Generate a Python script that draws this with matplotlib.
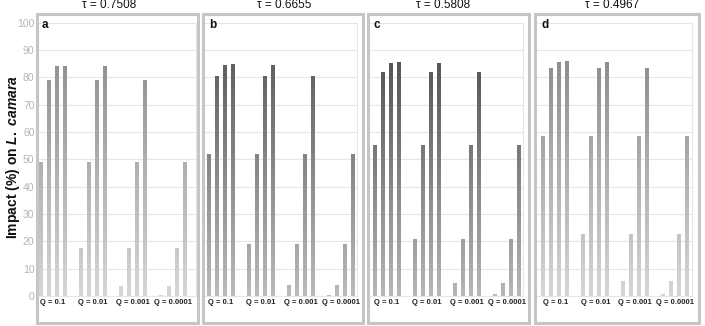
import numpy as np
import matplotlib
matplotlib.use("Agg")
import matplotlib.pyplot as plt
from matplotlib.patches import Rectangle
from matplotlib.colors import LinearSegmentedColormap

plt.rcParams['font.family'] = ['Liberation Sans', 'DejaVu Sans']
plt.rcParams['mathtext.fontset'] = 'custom'
plt.rcParams['mathtext.it'] = 'Liberation Sans:italic:bold'
plt.rcParams['mathtext.rm'] = 'Liberation Sans:bold'

# data
q_labels = ["Q = 0.1", "Q = 0.01", "Q = 0.001", "Q = 0.0001"]
panel_letters = ["a", "b", "c", "d"]
taus = ["0.7508", "0.6655", "0.5808", "0.4967"]

impact_a = [[49.0, 79.0, 84.0, 84.3],
            [17.5, 49.0, 79.0, 84.0],
            [3.5, 17.5, 49.0, 79.0],
            [0.4, 3.5, 17.5, 49.0]]
impact_b = [[52.0, 80.6, 84.5, 84.9],
            [19.2, 52.0, 80.6, 84.5],
            [4.0, 19.2, 52.0, 80.6],
            [0.5, 4.0, 19.2, 52.0]]
impact_c = [[55.3, 82.0, 85.3, 85.5],
            [21.0, 55.3, 82.0, 85.3],
            [4.6, 21.0, 55.3, 82.0],
            [0.6, 4.6, 21.0, 55.3]]
impact_d = [[58.5, 83.3, 85.8, 86.0],
            [22.7, 58.5, 83.3, 85.8],
            [5.5, 22.7, 58.5, 83.3],
            [0.7, 5.5, 22.7, 58.5]]
impacts = [impact_a, impact_b, impact_c, impact_d]

# gradient colours (top, bottom) per panel
grad_cols = [("#868686", "#d6d6d6"), ("#505050", "#bababa"),
             ("#444444", "#b6b6b6"), ("#828282", "#d6d6d6")]

W, H = 705, 326
fig = plt.figure(figsize=(W / 100, H / 100), dpi=100)

def fx(px):
    return px / W

def fy(py):
    return 1 - py / H

# layout in pixels
box_l = [37, 203, 368, 535]
box_r = [198, 363, 529, 699]
box_t, box_b = 14, 323
ax_l = [38, 204, 369, 536]
ax_r = [196, 357, 523, 692]
first_bar = [40.8, 208.7, 374.5, 543.3]
title_x = [109, 284, 443, 612]
ax_top, ax_bot = 22.7, 296
slot = 8.0  # px per bar slot

grad = np.linspace(0, 1, 256).reshape(-1, 1)

for p in range(4):
    ax = fig.add_axes([fx(ax_l[p]), fy(ax_bot), fx(ax_r[p] - ax_l[p]),
                       (ax_bot - ax_top) / H])
    cmap = LinearSegmentedColormap.from_list("g", [grad_cols[p][1], grad_cols[p][0]])
    xs, vals = [], []
    for g in range(4):
        for k in range(4):
            xs.append(g * 5 + k)
            vals.append(impacts[p][g][k])
    bars = ax.bar(xs, vals, width=0.48, color="none", edgecolor="none", zorder=2)
    # vertical grey gradient inside each bar
    for b in bars:
        im = ax.imshow(grad, extent=(b.get_x(), b.get_x() + b.get_width(), 0, 100),
                       cmap=cmap, origin="lower", aspect="auto", zorder=2)
        im.set_clip_path(b)
    ax.set_xlim((ax_l[p] - first_bar[p]) / slot, (ax_r[p] - first_bar[p]) / slot)
    ax.set_ylim(0, 100)
    ax.set_axisbelow(True)
    ax.set_yticks(range(0, 101, 10))
    ax.yaxis.grid(True, color="#e6e6e6", lw=0.8)
    centers = [g * 5 + 1.5 for g in range(4)]
    ax.set_xticks(centers, q_labels, fontsize=5.5, fontweight="bold", color="#222222")
    ax.tick_params(axis="x", length=0, pad=2.2)
    if p == 0:
        ax.tick_params(axis="y", length=0, pad=2.5, labelsize=7.5, labelcolor="#b4b4b4")
    else:
        ax.tick_params(axis="y", length=0, labelleft=False)
    for s in ["top", "left"]:
        ax.spines[s].set_visible(False)
    for s in ["right", "bottom"]:
        ax.spines[s].set_color("#e6e6e6")
        ax.spines[s].set_linewidth(0.8)
    fig.text(fx(box_l[p] + (5 if p == 0 else 6)), fy(25), panel_letters[p],
             fontsize=8.5, fontweight="bold", color="#111111", va="center")
    fig.text(fx(title_x[p]), fy(5.5), "\u03c4 = " + taus[p], fontsize=8.5,
             ha="center", va="center", color="#111111")
    fig.patches.append(Rectangle((fx(box_l[p]), fy(box_b)), fx(box_r[p] - box_l[p]),
                                 (box_b - box_t) / H, transform=fig.transFigure,
                                 fill=False, edgecolor="#c6c6c6", lw=2.2, zorder=5))

fig.text(fx(13), fy(157), r"Impact (%) on $\mathit{L.\ camara}$", rotation=90,
         fontsize=10, fontweight="bold", ha="center", va="center", color="#111111")

fig.savefig("out.png", dpi=100)
